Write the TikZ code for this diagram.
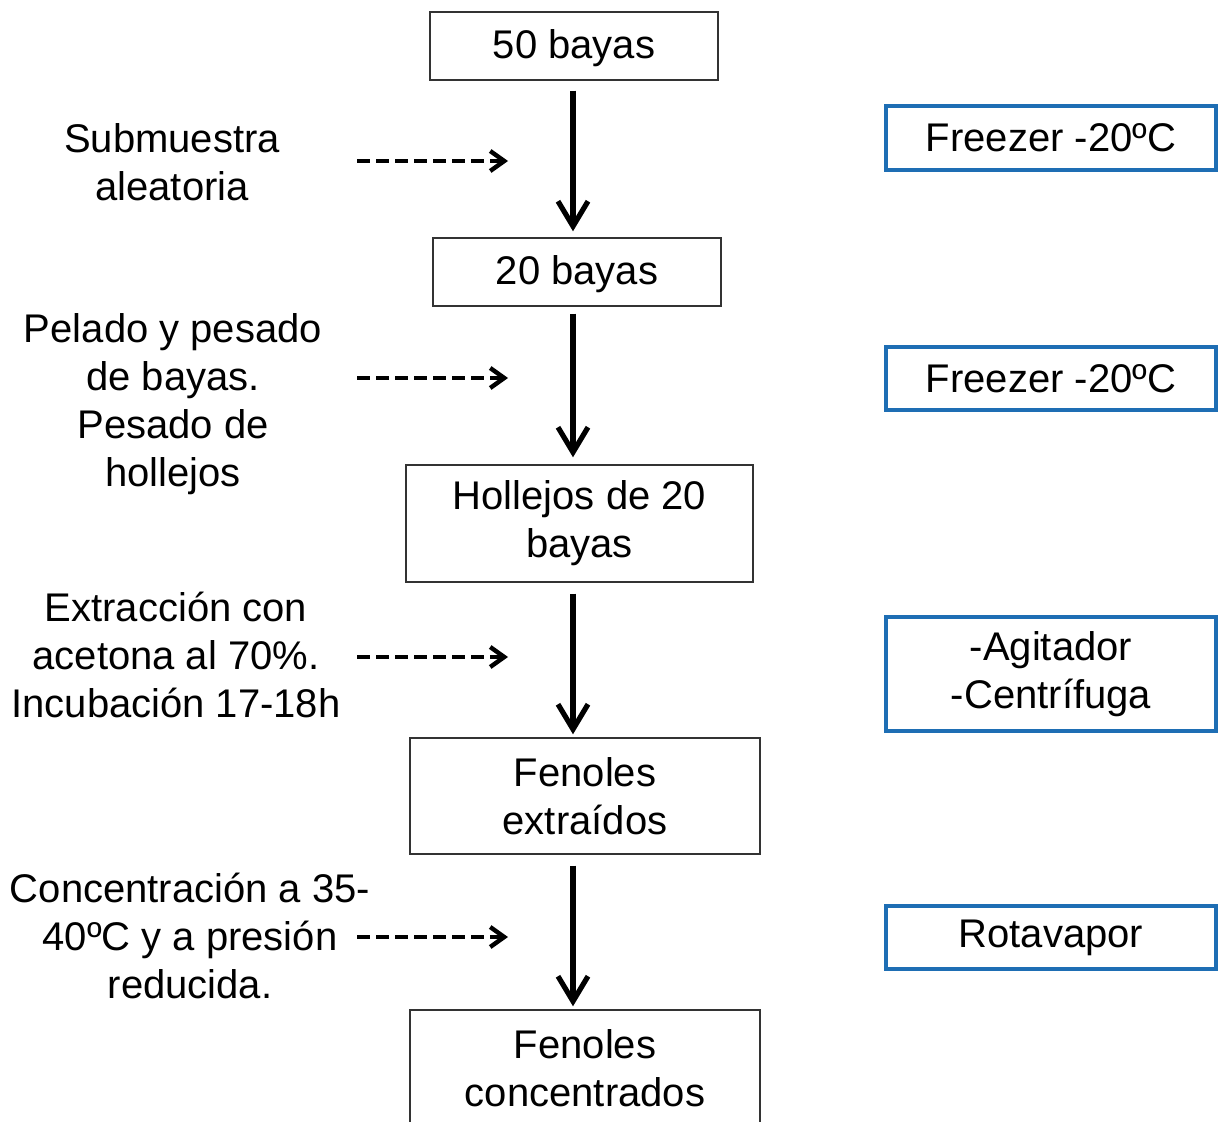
\documentclass[tikz,border=0pt]{standalone}
\usepackage{fontspec}
\setmainfont{Liberation Sans}
\usetikzlibrary{arrows.meta,positioning}
\definecolor{blueline}{RGB}{30,110,180}

\begin{document}
\begin{tikzpicture}[
    x=0.5pt, y=-0.5pt,
    every node/.style={font=\fontsize{20}{24}\selectfont, align=center},
    stepbox/.style={rectangle, draw=black!80, line width=0.7pt, inner sep=0pt},
    sidebox/.style={rectangle, draw=blueline, line width=2pt, minimum width=165pt, inner sep=0pt},
    note/.style={inner sep=0pt},
    arrow/.style={-{Straight Barb[length=12.5pt,width=15pt]}, line width=2.6pt},
    dasharrow/.style={-{Straight Barb[length=7pt,width=10pt]}, line width=2.2pt, dash pattern=on 6.5pt off 3pt}
]
\useasboundingbox (0,0) rectangle (1225,1122);

% Main chain
\node[stepbox, minimum width=144pt, minimum height=34pt, text height=17pt, text depth=4pt] (B50) at (574,46) {50 bayas};
\node[stepbox, minimum width=144pt, minimum height=34pt, text height=17pt, text depth=4pt] (B20) at (577,272) {20 bayas};
\node[stepbox, minimum width=173.5pt, minimum height=58.5pt] (Hol) at (579.5,523.5) {Hollejos de 20\\bayas};
\node[stepbox, minimum width=175pt, minimum height=58pt] (Fext) at (585,796) {Fenoles\\extraídos};
\node[stepbox, minimum width=175pt, minimum height=58pt] (Fcon) at (585,1068) {Fenoles\\concentrados};

% Equipment
\node[sidebox, minimum height=32pt] (Fr1) at (1051,138) {Freezer -20ºC};
\node[sidebox, minimum height=31.5pt] (Fr2) at (1051,378.5) {Freezer -20ºC};
\node[sidebox, minimum height=57pt] (Agi) at (1051,674) {-Agitador\\-Centrífuga};
\node[sidebox, minimum height=31.5pt] (Rot) at (1051,937.5) {Rotavapor};

% Steps
\node[note] (Sub) at (172,162) {Submuestra\\aleatoria};
\node[note] (Pel) at (173,404) {Pelado y pesado\\de bayas.\\Pesado de\\hollejos};
\node[note] (Ext) at (176,655) {Extracción con\\acetona al 70\%.\\Incubación 17-18h};
\node[note] (Con) at (190,936) {Concentración a 35-\\40ºC y a presión\\reducida.};

% Ends of the dashed arrows
\coordinate (S1) at (357,161); \coordinate (E1) at (508,161);
\coordinate (S2) at (357,378); \coordinate (E2) at (508,378);
\coordinate (S3) at (357,657); \coordinate (E3) at (508,657);
\coordinate (S4) at (357,937); \coordinate (E4) at (508,937);
\coordinate (spine) at (573,0);

% Edges - main chain
\draw[arrow, shorten <=5pt, shorten >=3pt] (B50.south -| spine) -- (B20.north -| spine);
\draw[arrow, shorten <=3.5pt, shorten >=3.5pt] (B20.south -| spine) -- (Hol.north -| spine);
\draw[arrow, shorten <=5.5pt, shorten >=1.5pt] (Hol.south -| spine) -- (Fext.north -| spine);
\draw[arrow, shorten <=5.5pt, shorten >=1.5pt] (Fext.south -| spine) -- (Fcon.north -| spine);

% Edges - dashed
\draw[dasharrow] (S1) -- (E1);
\draw[dasharrow] (S2) -- (E2);
\draw[dasharrow] (S3) -- (E3);
\draw[dasharrow] (S4) -- (E4);

\end{tikzpicture}
\end{document}
